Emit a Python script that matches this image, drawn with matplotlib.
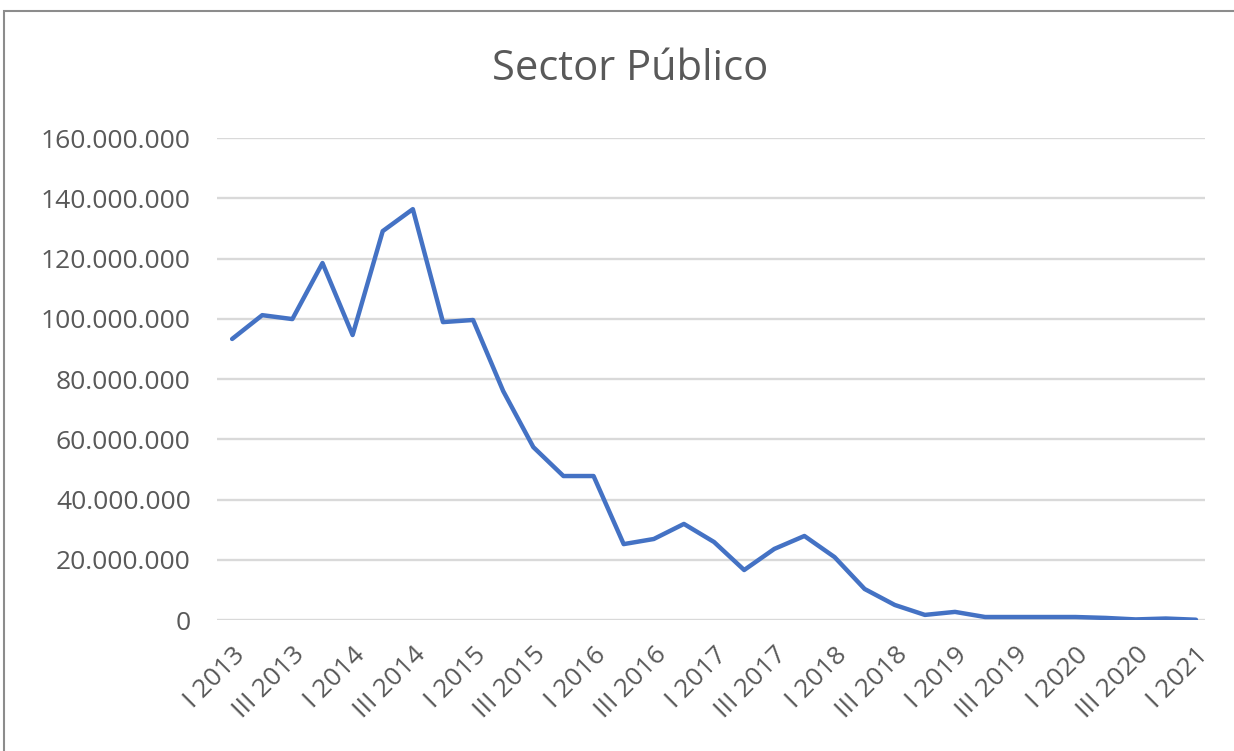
import matplotlib.pyplot as plt
from matplotlib.ticker import FuncFormatter
from matplotlib.patches import Rectangle

plt.rcParams['font.family'] = ['Open Sans', 'DejaVu Sans']

# Trimestres I 2013 .. I 2021
trimestres = ['I', 'II', 'III', 'IV']
etiquetas = [f'{trimestres[i % 4]} {2013 + i // 4}' for i in range(33)]

# Valores (millones)
valores_m = [93.3, 101.2, 99.9, 118.5, 94.6, 129.1, 136.4, 98.9, 99.6, 76.0,
             57.4, 47.8, 47.8, 25.2, 26.9, 31.9, 25.9, 16.6, 23.6, 27.9,
             20.9, 10.3, 5.0, 1.7, 2.7, 1.0, 1.0, 1.0, 1.0, 0.7,
             0.2, 0.5, 0.1]
valores = [v * 1e6 for v in valores_m]

fig = plt.figure(figsize=(12.34, 7.51), dpi=100)
ax = fig.add_axes([0.1759, 0.1744, 0.8006, 0.6418])

x = list(range(len(valores)))
ax.plot(x, valores, color='#4472C4', linewidth=3.2, solid_joinstyle='round',
        solid_capstyle='round', zorder=3)

ax.set_ylim(0, 160e6)
ax.set_xlim(-0.5, 32.3)
ax.set_yticks(range(0, 160000001, 20000000))
ax.yaxis.set_major_formatter(FuncFormatter(lambda v, p: f'{int(v):,}'.replace(',', '.')))
ax.set_xticks(x[::2])
ax.set_xticklabels(etiquetas[::2], rotation=45, ha='right', va='top',
                   rotation_mode='anchor')

ax.grid(axis='y', color='#D9D9D9', linewidth=1.7)
ax.set_axisbelow(True)
for s in ax.spines.values():
    s.set_visible(False)
ax.tick_params(length=0, labelsize=19, colors='#595959')
ax.tick_params(axis='y', pad=19)
ax.tick_params(axis='x', pad=16)

fig.text(0.511, 0.908, 'Sector Público', ha='center', va='center',
         fontsize=30, color='#595959')

# marco del gráfico
fig.patches.append(Rectangle((4 / 1234, -0.01), 1.1, (751 - 11) / 751 + 0.01,
                             transform=fig.transFigure, fill=False,
                             edgecolor='#8C8C8C', linewidth=1.5))

fig.savefig('out.png', dpi=100)
